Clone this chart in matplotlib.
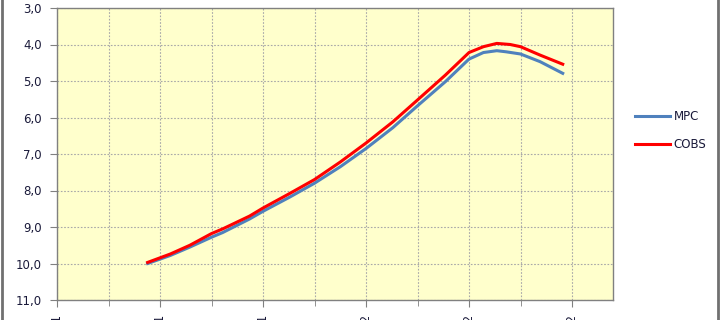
import matplotlib.pyplot as plt
from matplotlib.lines import Line2D
from matplotlib.ticker import FixedLocator

# x in tick units (one major tick = 1.0)
mpc_x = [0.88, 1.10, 1.29, 1.50, 1.61, 1.87, 2.00, 2.26, 2.50, 2.75, 3.00, 3.26,
         3.50, 3.77, 4.00, 4.14, 4.27, 4.36, 4.50, 4.69, 4.91]
mpc_y = [10.0, 9.78, 9.55, 9.28, 9.15, 8.78, 8.57, 8.18, 7.80, 7.35, 6.85, 6.28,
         5.68, 5.02, 4.40, 4.22, 4.17, 4.20, 4.26, 4.47, 4.79]
cobs_x = [0.88, 1.10, 1.29, 1.50, 1.61, 1.87, 2.00, 2.26, 2.50, 2.75, 3.00, 3.26,
          3.50, 3.77, 4.00, 4.14, 4.27, 4.40, 4.50, 4.69, 4.91]
cobs_y = [9.97, 9.74, 9.50, 9.18, 9.05, 8.70, 8.48, 8.08, 7.70, 7.22, 6.70, 6.12,
          5.52, 4.84, 4.22, 4.06, 3.97, 4.00, 4.06, 4.29, 4.54]
tick_labels = ['01.10.2021', '01.11.2021', '01.12.2021',
               '01.01.2022', '01.02.2022', '01.03.2022']

fig = plt.figure(figsize=(7.2, 3.2), dpi=100)
ax = fig.add_axes((57 / 720, 20 / 320, 556 / 720, 292 / 320))
ax.set_facecolor('#FFFFCC')

ax.plot(mpc_x, mpc_y, color='#4F81BD', linewidth=2.2, label='MPC')
ax.plot(cobs_x, cobs_y, color='#FF0000', linewidth=2.2, label='COBS')

ax.set_ylim(11, 3)
ax.set_xlim(0, 556 / 103)
ax.set_yticks(range(3, 12))
ax.set_yticklabels([f'{v},0' for v in range(3, 12)])
ax.xaxis.set_major_locator(FixedLocator(range(6)))
ax.xaxis.set_minor_locator(FixedLocator([0.5 + i for i in range(5)]))
ax.set_xticklabels(tick_labels, rotation=90, va='top')

ax.grid(True, which='both', axis='x', color='#A8A8A8', linestyle=(0, (1.5, 1.5)), linewidth=0.8)
ax.grid(True, which='major', axis='y', color='#A8A8A8', linestyle=(0, (1.5, 1.5)), linewidth=0.8)

ax.tick_params(axis='both', which='both', direction='out', colors='#808080',
               labelcolor='#1A1A3A', labelsize=8.5)
ax.tick_params(axis='y', length=5, pad=6)
ax.tick_params(axis='x', which='major', length=5, pad=5)
ax.tick_params(axis='x', which='minor', length=4)
for s in ax.spines.values():
    s.set_color('#808080')
    s.set_linewidth(1.0)

ax.legend(loc='center left', bbox_to_anchor=(1.02, 0.58), frameon=False,
          fontsize=8.5, handlelength=3.0, labelspacing=1.3, handletextpad=0.3,
          labelcolor='#1A1A3A')

for xf in (1.5 / 720, 717.5 / 720):
    fig.add_artist(Line2D([xf, xf], [0, 1], transform=fig.transFigure,
                          color='#707070', linewidth=2.0))

fig.savefig('out.png', dpi=100)
